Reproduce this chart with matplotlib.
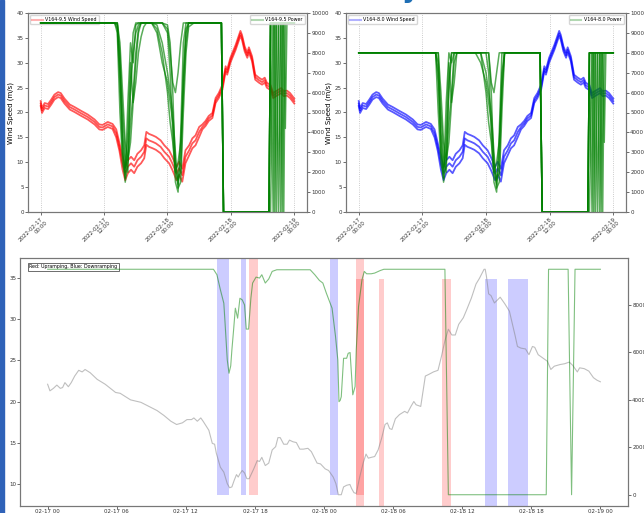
import numpy as np
import matplotlib
matplotlib.use("Agg")
import matplotlib.pyplot as plt
import matplotlib.dates as mdates
from matplotlib.lines import Line2D
from matplotlib.patches import Rectangle

# ---- top plots: ensemble wind speed (same for both turbines), hours from 2022-02-17 00:00
wind_hours = [0, 0.25, 0.75, 1.4, 2.0, 2.6, 3.3, 3.8, 4.5, 5.5, 6.4, 7.7, 8.9, 10.2, 11.1,
              11.7, 12.7, 13.6, 14.3, 14.9, 15.5, 16.0, 16.5, 17.1, 17.7, 18.3, 19.0, 19.6, 20.0, 20.5,
              21.2, 21.8, 22.7, 23.4, 24.3, 24.9, 25.3, 25.7, 26.2, 26.8, 27.4, 28.1, 28.7, 29.3, 30.0,
              30.6, 31.2, 31.8, 32.5, 33.1, 33.7, 34.4, 35.0, 35.3, 35.9, 36.9, 37.8, 38.1, 38.6, 39.1,
              39.4, 40.0, 40.6, 41.3, 41.9, 42.4, 42.8, 43.5, 44.0, 44.7, 45.5, 46.0, 46.6, 47.2, 48.0]
wind_mid = [21.8, 20.4, 21.4, 21.2, 22.1, 23.1, 23.6, 23.4, 22.3, 21.1, 20.6, 19.8, 19.1, 18.1, 17.1,
            17.0, 17.6, 17.2, 15.8, 13.1, 9.8, 7.7, 9.1, 9.8, 9.1, 10.4, 11.1, 12.1, 14.8, 14.4,
            14.1, 13.8, 13.1, 12.1, 11.1, 9.8, 8.8, 7.7, 8.8, 7.4, 11.1, 12.4, 13.8, 14.4, 16.1,
            17.1, 17.8, 18.8, 19.4, 22.4, 23.4, 25.1, 28.8, 28.1, 30.5, 33.1, 35.9, 35.1, 32.8, 31.5,
            32.6, 30.8, 27.1, 26.5, 26.1, 26.5, 25.5, 25.0, 23.4, 23.9, 24.4, 23.8, 23.9, 23.4, 22.3]
wind_lo = [21.3, 19.9, 20.9, 20.7, 21.6, 22.6, 23.1, 22.9, 21.8, 20.6, 20.1, 19.3, 18.6, 17.6, 16.6,
           16.5, 17.1, 16.7, 15.0, 12.3, 8.5, 6.4, 7.8, 8.5, 7.8, 9.1, 9.8, 10.8, 13.5, 13.1,
           12.8, 12.5, 11.8, 10.8, 9.8, 8.5, 7.5, 6.4, 7.5, 6.1, 9.8, 11.4, 12.8, 13.4, 15.1,
           16.6, 17.3, 18.3, 18.9, 21.9, 22.9, 24.6, 28.3, 27.6, 30.0, 32.6, 35.4, 34.6, 32.3, 31.0,
           32.1, 30.3, 26.6, 26.0, 25.6, 26.0, 25.0, 24.5, 22.9, 23.4, 23.9, 23.3, 23.4, 22.9, 21.8]
wind_hi = [22.3, 20.9, 21.9, 21.7, 22.6, 23.6, 24.1, 23.9, 22.8, 21.6, 21.1, 20.3, 19.6, 18.6, 17.6,
           17.5, 18.1, 17.7, 16.6, 13.9, 11.1, 9.0, 10.4, 11.1, 10.4, 11.7, 12.4, 13.4, 16.1, 15.7,
           15.4, 15.1, 14.4, 13.4, 12.4, 11.1, 10.1, 9.0, 10.1, 8.7, 12.4, 13.4, 14.8, 15.4, 17.1,
           17.6, 18.3, 19.3, 19.9, 22.9, 23.9, 25.6, 29.3, 28.6, 31.0, 33.6, 36.4, 35.6, 33.3, 32.0,
           33.1, 31.3, 27.6, 27.0, 26.6, 27.0, 26.0, 25.5, 23.9, 24.4, 24.9, 24.3, 24.4, 23.9, 22.8]

# ---- top plots: a few ensemble power members (kW)
power_hours = [0, 14.0, 14.5, 15.0, 15.5, 16.0, 16.5, 17.0, 17.5, 18.0, 18.5, 19.0, 19.5, 20.0, 21.0,
               22.0, 23.0, 24.0, 24.5, 25.0, 25.5, 26.0, 26.5, 27.0, 27.5, 28.0, 29.0, 34.2, 34.6, 43.2,
               43.5, 44.0, 44.3, 44.6, 45.0, 45.4, 45.7, 46.0, 46.3, 46.6, 48.0]
p95_a = [9500, 9500, 9000, 5000, 2500, 1700, 5500, 8500, 7500, 9400, 9500, 9500, 9500, 9500, 9500,
         9500, 9500, 9000, 7000, 4000, 1500, 1000, 4000, 8500, 9500, 9500, 9500, 9500, 0, 0,
         9500, 9500, 0, 9500, 9500, 9500, 9500, 9500, 9500, 9500, 9500]
p95_b = [9500, 9500, 9500, 8000, 4000, 2200, 3000, 6000, 8000, 9000, 9400, 9500, 9500, 9500, 9500,
         9000, 7500, 6500, 5500, 4500, 2500, 1600, 2000, 6500, 9000, 9500, 9500, 9500, 0, 0,
         9500, 9500, 9500, 9500, 9500, 0, 9500, 9500, 4200, 9500, 9500]
p95_c = [9500, 9500, 9200, 6500, 3500, 1500, 2500, 4500, 6000, 8000, 9200, 9500, 9500, 9500, 9500,
         9400, 8500, 7000, 6000, 5000, 3000, 1200, 1500, 5000, 8000, 9300, 9500, 9500, 0, 0,
         0, 9500, 9500, 9500, 0, 9500, 9500, 9500, 9500, 9500, 9500]
p95_d = [9500, 9500, 9500, 7000, 3000, 2000, 4000, 7500, 5500, 6500, 8000, 8800, 9300, 9500, 9500,
         9500, 9500, 9200, 8000, 6500, 6000, 7000, 8500, 9500, 9500, 9500, 9500, 9500, 0, 0,
         9500, 9500, 9500, 0, 9500, 9500, 0, 9500, 9500, 9500, 9500]
p95_e = [9500, 9500, 9400, 7500, 5000, 2800, 2000, 6500, 9000, 9500, 9500, 9500, 9500, 9500, 9500,
         9500, 9500, 9400, 8500, 6000, 2000, 1400, 3000, 7000, 9200, 9500, 9500, 9500, 0, 0,
         9500, 0, 9500, 9500, 9500, 9500, 9500, 0, 9500, 9500, 9500]
p95_f = [9500, 9500, 9500, 8500, 6000, 3500, 2600, 3500, 5500, 7500, 9000, 9500, 9500, 9500, 9500,
         9200, 8000, 6000, 4500, 3500, 2000, 2500, 3500, 6000, 8500, 9500, 9500, 9500, 0, 0,
         9500, 9500, 9500, 9500, 9500, 9500, 9500, 9500, 9500, 9500, 9500]

p80_a = [8000, 8000, 8000, 5000, 2500, 1700, 5500, 8000, 7500, 8000, 8000, 8000, 8000, 8000, 8000,
         8000, 8000, 8000, 7000, 4000, 1500, 1000, 4000, 8000, 8000, 8000, 8000, 8000, 0, 0,
         8000, 8000, 0, 8000, 8000, 8000, 8000, 8000, 8000, 8000, 8000]
p80_b = [8000, 8000, 8000, 8000, 4000, 2200, 3000, 6000, 8000, 8000, 8000, 8000, 8000, 8000, 8000,
         8000, 7500, 6500, 5500, 4500, 2500, 1600, 2000, 6500, 8000, 8000, 8000, 8000, 0, 0,
         8000, 8000, 8000, 8000, 8000, 0, 8000, 8000, 3500, 8000, 8000]
p80_c = [8000, 8000, 8000, 6500, 3500, 1500, 2500, 4500, 6000, 8000, 8000, 8000, 8000, 8000, 8000,
         8000, 8000, 7000, 6000, 5000, 3000, 1200, 1500, 5000, 8000, 8000, 8000, 8000, 0, 0,
         0, 8000, 8000, 8000, 0, 8000, 8000, 8000, 8000, 8000, 8000]
p80_d = [8000, 8000, 8000, 7000, 3000, 2000, 4000, 7500, 5500, 6500, 8000, 8000, 8000, 8000, 8000,
         8000, 8000, 8000, 8000, 6500, 6000, 7000, 8000, 8000, 8000, 8000, 8000, 8000, 0, 0,
         8000, 8000, 8000, 0, 8000, 8000, 0, 8000, 8000, 8000, 8000]
p80_e = [8000, 8000, 8000, 7500, 5000, 2800, 2000, 6500, 8000, 8000, 8000, 8000, 8000, 8000, 8000,
         8000, 8000, 8000, 8000, 6000, 2000, 1400, 3000, 7000, 8000, 8000, 8000, 8000, 0, 0,
         8000, 0, 8000, 8000, 8000, 8000, 8000, 0, 8000, 8000, 8000]
p80_f = [8000, 8000, 8000, 8000, 6000, 3500, 2600, 3500, 5500, 7500, 8000, 8000, 8000, 8000, 8000,
         8000, 8000, 6000, 4500, 3500, 2000, 2500, 3500, 6000, 8000, 8000, 8000, 8000, 0, 0,
         8000, 8000, 8000, 8000, 8000, 8000, 8000, 8000, 8000, 8000, 8000]

# ---- bottom plot: single member wind + power
b_wind_hours = [0, 0.2, 0.5, 0.8, 1.1, 1.3, 1.5, 1.8, 2.05, 2.35, 2.7, 3.0, 3.25, 3.7, 4.3, 5.0, 5.9, 6.3,
                7.2, 8.1, 8.8, 9.5, 10.1, 10.7, 11.2, 11.7, 12.1, 12.5, 12.7, 13.0, 13.3, 13.5, 14.0, 14.3,
                14.5, 14.65, 15.0, 15.3, 15.6, 15.8, 16.0, 16.2, 16.4, 16.55, 16.7, 16.9, 17.1, 17.3, 17.5,
                17.9, 18.2, 18.4, 18.6, 18.9, 19.2, 19.5, 19.8, 20.0, 20.2, 20.5, 20.8, 21.0, 21.3, 21.6,
                21.9, 22.2, 22.6, 22.9, 23.4, 23.7, 24.1, 24.4, 24.8, 25.04, 25.25, 25.5, 25.7, 25.97,
                26.25, 26.4, 26.6, 26.8, 27.1, 27.4, 27.65, 27.85, 28.1, 28.4, 28.7, 29.0, 29.3, 29.5,
                29.7, 29.9, 30.2, 30.55, 31.0, 31.25, 31.55, 31.8, 32.0, 32.4, 32.8, 33.1, 33.5, 33.9,
                34.2, 34.5, 34.8, 35.1, 35.4, 35.7, 36.1, 36.4, 36.8, 37.2, 37.5, 37.9, 38.0, 38.1, 38.3,
                38.5, 38.8, 39.3, 39.7, 40.1, 40.3, 40.6, 40.8, 41.1, 41.5, 41.8, 42.1, 42.3, 42.6, 43.0,
                43.4, 43.7, 44.0, 44.5, 44.9, 45.3, 45.6, 46.0, 46.2, 46.6, 47.0, 47.4, 47.7, 48.0]
b_wind = [22.1, 21.3, 21.6, 22.0, 21.6, 21.7, 22.3, 21.8, 22.3, 23.1, 23.8, 23.6, 23.9, 23.5, 22.7, 22.1, 21.1, 21.0,
          20.2, 19.9, 19.4, 18.9, 18.3, 17.6, 17.2, 17.4, 17.8, 17.8, 18.0, 17.6, 18.0, 17.6, 16.5, 14.9,
          14.8, 13.7, 12.0, 11.4, 10.0, 9.5, 9.6, 10.4, 11.1, 10.8, 11.2, 11.6, 11.3, 10.6, 10.6,
          11.8, 12.8, 12.7, 13.2, 12.2, 12.5, 14.1, 14.5, 15.6, 15.6, 14.8, 14.8, 15.3, 15.1, 15.0,
          14.2, 14.2, 14.3, 13.9, 12.5, 12.4, 11.8, 11.6, 10.8, 10.0, 8.65, 8.65, 9.6, 9.8,
          9.9, 9.4, 8.9, 8.8, 10.8, 12.5, 13.6, 13.1, 13.2, 13.3, 14.1, 15.5, 17.2, 17.4,
          16.7, 16.6, 17.9, 18.4, 18.8, 18.6, 19.4, 20.0, 19.6, 19.4, 23.1, 23.3, 23.6, 23.8,
          25.5, 27.4, 28.8, 28.1, 28.1, 29.4, 30.2, 31.2, 32.6, 34.3, 35.0, 36.1, 36.1, 35.3, 33.1,
          32.9, 32.0, 32.7, 31.9, 31.0, 29.8, 28.0, 26.7, 26.5, 26.4, 25.7, 26.7, 26.6, 25.7, 25.3,
          24.9, 23.9, 24.3, 24.5, 24.6, 24.8, 24.4, 23.6, 24.1, 24.0, 23.7, 22.9, 22.6, 22.4]
b_power_hours = [0, 14.4, 14.7, 15.0, 15.3, 15.4, 15.6, 15.75, 15.9, 16.0, 16.15, 16.3, 16.5, 16.7, 16.9,
                 17.1, 17.25, 17.45, 17.65, 17.8, 18.1, 18.4, 18.6, 18.9, 19.2, 19.5, 19.9, 22.8, 23.2,
                 23.6, 23.9, 24.2, 24.7, 25.0, 25.2, 25.3, 25.4, 25.5, 25.7, 25.97, 26.1, 26.26, 26.5,
                 26.7, 26.8, 27.0, 27.3, 27.5, 27.7, 28.1, 28.4, 28.9, 29.2, 34.5, 34.8, 43.3, 43.5,
                 45.2, 45.5, 45.8, 48.0]
b_power = [9500, 9500, 9270, 8640, 8070, 7300, 5680, 5120, 5430, 6100, 6950, 7860, 7440, 8280, 8210,
           8000, 6980, 6980, 8280, 8920, 9170, 9130, 9270, 8920, 9090, 9410, 9480, 9480, 9270,
           9030, 8920, 8500, 7860, 6670, 5680, 3920, 3970, 4130, 5750, 5750, 5960, 5990, 4210,
           4560, 6100, 7930, 9060, 9410, 9310, 9310, 9340, 9450, 9500, 9500, 0, 0, 9500,
           9500, 0, 9500, 9500]

# ramp windows (start, end hours)
up_upper = [(17.5, 18.25), (26.75, 27.5)]
down_upper = [(14.75, 15.75), (16.75, 17.2), (24.5, 25.25)]
up_lower = [(26.75, 27.5), (28.75, 29.25), (34.25, 35.0)]
down_lower = [(38.0, 39.0), (40.0, 41.75)]

base = np.datetime64("2022-02-17T00:00")


def to_dt(hours):
    mins = np.round(np.asarray(hours, dtype=float) * 60).astype(int)
    return base + mins.astype("timedelta64[m]")


def to_num(h):
    return mdates.date2num(to_dt([h]))[0]


fig = plt.figure(figsize=(6.44, 5.13), dpi=100)
fig.patches.append(Rectangle((0, 0), 4 / 644, 1, transform=fig.transFigure,
                             color="#2f62b8", zorder=-1))
fig.text(411 / 644, 1.0 + 3 / 513, "y", color="#1f6fb5", fontsize=20, fontweight="bold",
         ha="center", va="baseline")

tick_fs = 4.0
spine_c = "#777777"


def top_panel(rect, wcolor, label, members, pcap_label):
    ax = fig.add_axes(rect)
    for w in (wind_lo, wind_mid, wind_hi):
        ax.plot(to_dt(wind_hours), w, color=wcolor, lw=1.3, alpha=0.65)
    ax.set_ylim(0, 40)
    ax.set_ylabel("Wind Speed (m/s)", fontsize=5, labelpad=2)
    ax.grid(axis="x", linestyle=":", color="#bbbbbb", lw=0.6)
    ax.xaxis.set_major_locator(mdates.HourLocator(byhour=[0, 12]))
    ax.xaxis.set_major_formatter(mdates.DateFormatter("%Y-%m-%d\n%H:%M"))
    ax.tick_params(labelsize=tick_fs, length=2, width=0.5, pad=1, colors="#333333")
    plt.setp(ax.get_xticklabels(), rotation=45, ha="right", rotation_mode="anchor")
    ax2 = ax.twinx()
    for p in members:
        ax2.plot(to_dt(power_hours), p, color="green", lw=1.1, alpha=0.65)
    ax2.set_ylim(0, 10000)
    ax2.set_yticks(np.arange(0, 10001, 1000))
    ax2.tick_params(labelsize=tick_fs, length=2, width=0.5, pad=1, colors="#333333")
    for a in (ax, ax2):
        for s in a.spines.values():
            s.set_color(spine_c)
            s.set_linewidth(0.8)
    ax.legend(handles=[Line2D([], [], color=wcolor, alpha=0.3, lw=1.5)], labels=[label],
              loc="upper left", fontsize=3.4, handlelength=2.2, borderpad=0.4,
              handletextpad=0.6, framealpha=0.8)
    ax2.legend(handles=[Line2D([], [], color="green", alpha=0.3, lw=1.5)], labels=[pcap_label],
               loc="upper right", fontsize=3.4, handlelength=2.2, borderpad=0.4,
               handletextpad=0.6, framealpha=0.8)
    return ax, ax2


top_panel([28 / 644, 301 / 513, 279 / 644, 199 / 513], "red", "V164-9.5 Wind Speed",
          [p95_a, p95_b, p95_c, p95_d, p95_e, p95_f], "V164-9.5 Power")
axr, axr2 = top_panel([346 / 644, 301 / 513, 280 / 644, 199 / 513], "blue", "V164-8.0 Wind Speed",
                      [p80_a, p80_b, p80_c, p80_d, p80_e, p80_f], "V164-8.0 Power")
axr2.set_ylabel("Power (kW)", color="green", fontsize=5, labelpad=9)

# ---- bottom panel
axb = fig.add_axes([20 / 644, 7 / 513, 608 / 644, 248 / 513])
axb.plot(to_dt(b_wind_hours), b_wind, color="gray", lw=0.8, alpha=0.5)
axb.xaxis.set_major_locator(mdates.HourLocator(byhour=[0, 6, 12, 18]))
axb.xaxis.set_major_formatter(mdates.DateFormatter("%m-%d %H"))
axb.tick_params(labelsize=tick_fs, length=2, width=0.5, pad=0.5, colors="#333333")
axb2 = axb.twinx()
axb2.plot(to_dt(b_power_hours), b_power, color="green", lw=0.8, alpha=0.5)
axb2.tick_params(labelsize=tick_fs, length=2, width=0.5, pad=1, colors="#333333")
for s0, s1 in up_upper:
    axb.axvspan(to_num(s0), to_num(s1), ymin=0.044, ymax=1, color="red", alpha=0.2, lw=0)
for s0, s1 in down_upper:
    axb.axvspan(to_num(s0), to_num(s1), ymin=0.044, ymax=1, color="blue", alpha=0.2, lw=0)
for s0, s1 in up_lower:
    axb.axvspan(to_num(s0), to_num(s1), ymin=0, ymax=0.915, color="red", alpha=0.2, lw=0)
for s0, s1 in down_lower:
    axb.axvspan(to_num(s0), to_num(s1), ymin=0, ymax=0.915, color="blue", alpha=0.2, lw=0)
for a in (axb, axb2):
    for s in a.spines.values():
        s.set_color(spine_c)
        s.set_linewidth(0.8)
axb.text(0.015, 0.975, "Red: Upramping, Blue: Downramping", transform=axb.transAxes,
         fontsize=3.4, va="top", ha="left",
         bbox=dict(boxstyle="square,pad=0.3", fc="white", ec="#555555", lw=0.6))

fig.savefig("out.png", dpi=100)
